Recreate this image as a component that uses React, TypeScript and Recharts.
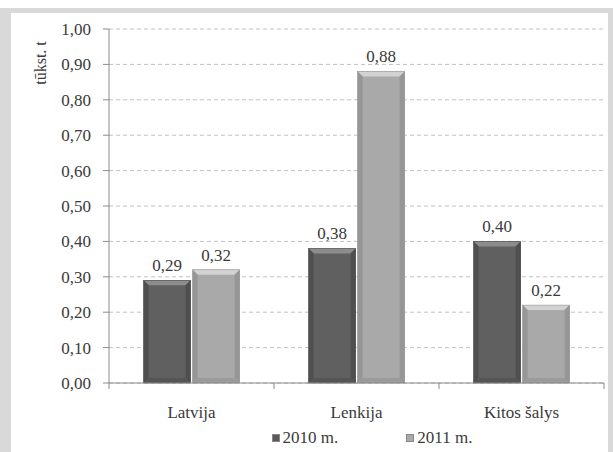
import React from 'react';
import {
  Bar,
  BarChart,
  CartesianGrid,
  LabelList,
  Legend,
  XAxis,
  YAxis,
  Label,
} from 'recharts';

const CATEGORIES = ['Latvija', 'Lenkija', 'Kitos šalys'];
const VALUES_2010 = [0.29, 0.38, 0.4];
const VALUES_2011 = [0.32, 0.88, 0.22];
const Y_TICKS = [0, 0.1, 0.2, 0.3, 0.4, 0.5, 0.6, 0.7, 0.8, 0.9, 1.0];
const SERIES_NAMES = ['2010 m.', '2011 m.'];

const DATA = CATEGORIES.map((c, i) => ({
  name: c,
  y2010: VALUES_2010[i],
  y2011: VALUES_2011[i],
}));

const FONT = '"Liberation Serif", "Times New Roman", Tinos, serif';
const TEXT = '#3a3a3a';
const FS = 17;

const fmt = (v: any) => Number(v).toFixed(2).replace('.', ',');

const makeBevel = (base: string, top: string, side: string, bottom: string) => (props: any) => {
  const { x, y, width, height } = props;
  if (!height || height <= 0) return null;
  const b = Math.min(5, width / 4, height / 4);
  return (
    <g>
      <rect x={x} y={y} width={width} height={height} fill={base} />
      <polygon
        points={`${x},${y} ${x + width},${y} ${x + width - b},${y + b} ${x + b},${y + b}`}
        fill={top}
      />
      <polygon
        points={`${x},${y} ${x + b},${y + b} ${x + b},${y + height - b} ${x},${y + height}`}
        fill={side}
      />
      <polygon
        points={`${x + width},${y} ${x + width - b},${y + b} ${x + width - b},${y + height - b} ${x + width},${y + height}`}
        fill={side}
      />
      <polygon
        points={`${x},${y + height} ${x + b},${y + height - b} ${x + width - b},${y + height - b} ${x + width},${y + height}`}
        fill={bottom}
      />
      <rect x={x} y={y} width={width} height={height} fill="none" stroke={side} strokeWidth={0.6} />
    </g>
  );
};

const Bar2010 = makeBevel('#606060', '#8c8c8c', '#4f4f4f', '#555555');
const Bar2011 = makeBevel('#a9a9a9', '#d2d2d2', '#969696', '#9a9a9a');

const CategoryTick = (props: any) => {
  const { x, y, payload, index } = props;
  const half = payload.offset || 0;
  return (
    <g>
      <line x1={x - half} y1={y - 8} x2={x - half} y2={y - 2} stroke="#8a8a8a" />
      {index === CATEGORIES.length - 1 && (
        <line x1={x + half} y1={y - 8} x2={x + half} y2={y - 2} stroke="#8a8a8a" />
      )}
      <text x={x} y={y + 27} textAnchor="middle" fill={TEXT} fontSize={FS} fontFamily={FONT}>
        {payload.value}
      </text>
    </g>
  );
};

const YTick = (props: any) => {
  const { x, y, payload } = props;
  return (
    <text x={x} y={y} dy={6} textAnchor="end" fill={TEXT} fontSize={FS} fontFamily={FONT}>
      {fmt(payload.value)}
    </text>
  );
};

const ValueLabel = (props: any) => {
  const { x, y, width, value } = props;
  return (
    <text x={x + width / 2} y={y - 9} textAnchor="middle" fill={TEXT} fontSize={FS} fontFamily={FONT}>
      {fmt(value)}
    </text>
  );
};

const LegendContent = () => {
  const colors = ['#5a5a5a', '#a9a9a9'];
  return (
    <div style={{ display: 'flex', justifyContent: 'center', gap: 68, fontFamily: FONT, fontSize: FS, color: TEXT, paddingLeft: 120 }}>
      {SERIES_NAMES.map((n, i) => (
        <div key={n} style={{ display: 'flex', alignItems: 'center' }}>
          <span style={{ display: 'inline-block', width: 8, height: 8, background: colors[i], marginRight: 3, border: '1px solid #888', boxSizing: 'border-box' }} />
          {n}
        </div>
      ))}
    </div>
  );
};

export default function App() {
  return (
    <div style={{ position: 'absolute', left: 0, top: 0, width: 613, height: 452, background: '#fff', fontFamily: FONT }}>
      <div
        style={{
          position: 'absolute',
          left: 0,
          top: 8,
          width: 613,
          height: 444,
          boxSizing: 'border-box',
          borderLeft: '11px solid #d9d9d9',
          borderTop: '5px solid #d9d9d9',
          borderRight: '5px solid #d9d9d9',
        }}
      />
      <div style={{ position: 'absolute', left: 0, top: 0 }}>
        <BarChart
          width={613}
          height={452}
          data={DATA}
          margin={{ top: 29, right: 9, left: 20, bottom: 5 }}
          barCategoryGap="21%"
          barGap={2}
        >
          <CartesianGrid vertical={false} stroke="#c0c0c0" strokeDasharray="4 3" />
          <XAxis
            dataKey="name"
            height={40}
            tickLine={false}
            axisLine={{ stroke: '#8a8a8a' }}
            tick={<CategoryTick />}
            interval={0}
          />
          <YAxis
            width={89}
            domain={[0, 1]}
            ticks={Y_TICKS}
            axisLine={{ stroke: '#8a8a8a' }}
            tickLine={{ stroke: '#8a8a8a' }}
            tickSize={6}
            tickMargin={12}
            tick={<YTick />}
          >
            <Label
              content={(p: any) => {
                const vb = p.viewBox;
                const cx = vb.x + 20;
                const cy = vb.y + 34;
                return (
                  <text
                    x={cx}
                    y={cy}
                    transform={`rotate(-90 ${cx} ${cy})`}
                    textAnchor="middle"
                    dominantBaseline="central"
                    fill={TEXT}
                    fontSize={FS - 1}
                    fontFamily={FONT}
                  >
                    tūkst. t
                  </text>
                );
              }}
            />
          </YAxis>
          <Legend verticalAlign="bottom" height={24} wrapperStyle={{ bottom: 0 }} content={<LegendContent />} />
          <Bar dataKey="y2010" name={SERIES_NAMES[0]} shape={Bar2010} isAnimationActive={false}>
            <LabelList dataKey="y2010" content={<ValueLabel />} />
          </Bar>
          <Bar dataKey="y2011" name={SERIES_NAMES[1]} shape={Bar2011} isAnimationActive={false}>
            <LabelList dataKey="y2011" content={<ValueLabel />} />
          </Bar>
        </BarChart>
      </div>
    </div>
  );
}
